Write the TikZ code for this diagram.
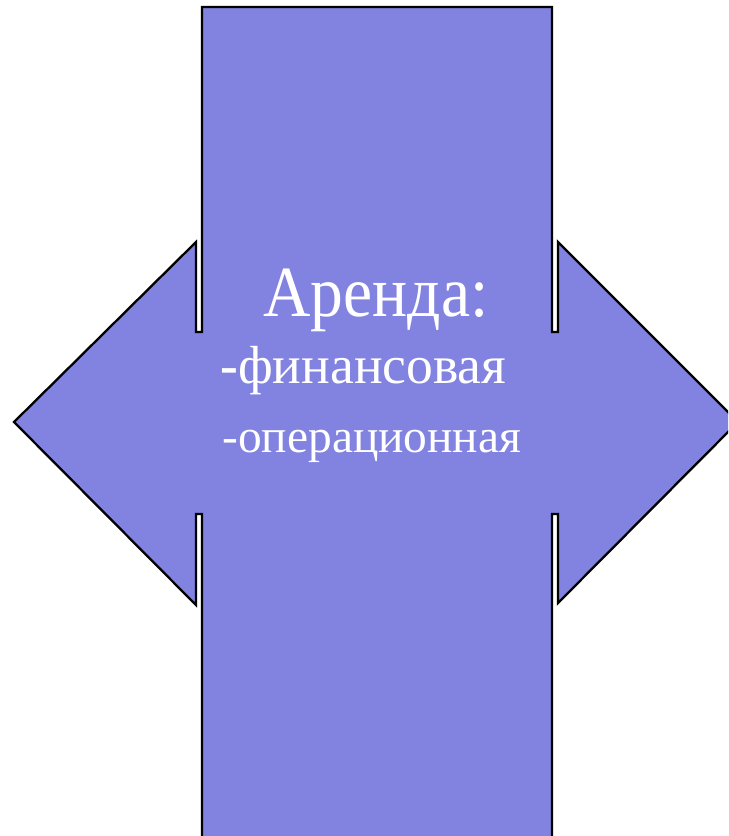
\documentclass[tikz,border=0pt]{standalone}
\usepackage{fontspec}
\setmainfont{Liberation Serif}
\usetikzlibrary{positioning}
\definecolor{leasefill}{RGB}{130,130,224}

\begin{document}
\begin{tikzpicture}[
  x=0.02cm, y=-0.02cm,
  crossfig/.style={fill=leasefill, draw=black, line width=1.3pt, line join=miter},
  title/.style={text=white, inner sep=0pt, anchor=base, xscale=0.91,
                font=\fontsize{41}{48}\selectfont},
  item/.style={text=white, inner sep=0pt, anchor=base west}
]
\useasboundingbox (0,0) rectangle (728,836);
\clip (0,0) rectangle (728,836);

% vertical bar with the two side arrows, drawn as one outline
\draw[crossfig] (202,7) -- (552,7) -- (552,332) -- (558,332) -- (558,242)
  -- (738,422) -- (558,603) -- (558,514) -- (552,514) -- (552,850)
  -- (202,850) -- (202,514) -- (196,514) -- (196,605) -- (14,422)
  -- (196,242) -- (196,332) -- (202,332) -- cycle;

\node[title] (head) at (376,316) {Аренда:};
\node[item, font=\fontsize{30.5}{36}\selectfont] (fin)  at (220,383) {\textbf{-}финансовая};
\node[item, font=\fontsize{27}{32}\selectfont] (oper) at (222,452) {-операционная};
\end{tikzpicture}
\end{document}
